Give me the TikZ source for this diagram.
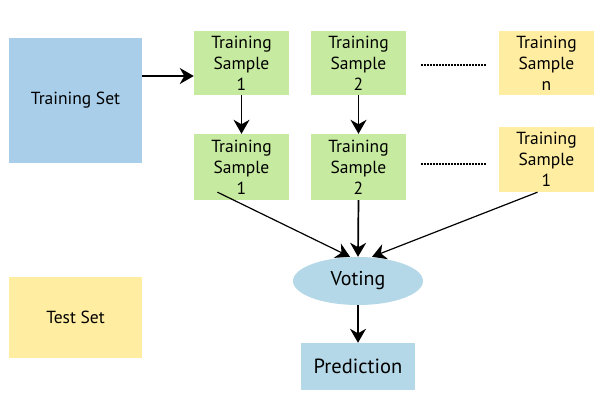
\documentclass[tikz,border=0pt]{standalone}
\usepackage{fontspec}
\setmainfont{PT Sans}
\usetikzlibrary{arrows.meta,shapes.geometric}
\definecolor{setblue}{HTML}{A9CEE9}
\definecolor{voteblue}{HTML}{B4D8E7}
\definecolor{sgreen}{HTML}{C6EBA0}
\definecolor{syellow}{HTML}{FFEDA1}
\tikzset{
  box/.style={fill=#1,draw=none,inner sep=0pt,align=center,font=\fontsize{17.5}{21}\selectfont},
  arr/.style={-{Stealth[length=14pt,width=16pt,inset=4.5pt]},line width=1.7pt},
  thinarr/.style={-{Stealth[length=14pt,width=16pt,inset=4.5pt]},line width=1.2pt},
  dots/.style={line width=2pt,dash pattern=on 1.4pt off 1.6pt}
}
\begin{document}
\begin{tikzpicture}[x=1pt,y=-1pt]
\useasboundingbox (0,0) rectangle (600,400);
\node[box=setblue,minimum width=133pt,minimum height=125pt] (ts) at (75.5,100.5) {Training Set};
\node[box=sgreen,minimum width=95pt,minimum height=64pt] (a1) at (241.5,63) {Training\\Sample\\1};
\node[box=sgreen,minimum width=95pt,minimum height=64pt] (a2) at (358.5,63) {Training\\Sample\\2};
\node[box=syellow,minimum width=95pt,minimum height=64pt] (an) at (546.5,63) {Training\\Sample\\n};
\node[box=sgreen,minimum width=95pt,minimum height=66pt] (b1) at (241.5,167) {Training\\Sample\\1};
\node[box=sgreen,minimum width=95pt,minimum height=66pt] (b2) at (358.5,167) {Training\\Sample\\2};
\node[box=syellow,minimum width=95pt,minimum height=65pt] (bn) at (546.5,159.5) {Training\\Sample\\1};
\node[box=syellow,minimum width=133pt,minimum height=81pt] (test) at (75.5,317.5) {Test Set};
\node[ellipse,fill=voteblue,inner sep=0pt,minimum width=130pt,minimum height=48pt,font=\fontsize{20}{22}\selectfont] (v) at (358,281) {Voting};
\node[box=voteblue,minimum width=114pt,minimum height=47pt,font=\fontsize{20.5}{22}\selectfont] (p) at (358,366.5) {Prediction};
\draw[dots] ([xshift=15pt,yshift=-2pt]a2.east) -- ([xshift=-13pt,yshift=-2pt]an.west);
\draw[dots] ([xshift=15pt,yshift=3pt]b2.east) -- ([xshift=-13pt,yshift=-4.5pt]bn.west);
\draw[arr] ([yshift=24.5pt]ts.east) -- ([yshift=-13pt]a1.west);
\draw[arr] (a1.south) -- (b1.north);
\draw[arr] (a2.south) -- (b2.north);
\draw[thinarr] ([xshift=-24pt,yshift=8pt]b1.south) -- ([xshift=-8pt]v.north);
\draw[arr] (b2.south) -- (v.north);
\draw[thinarr] ([xshift=-9pt]bn.south) -- ([xshift=14pt]v.north);
\draw[arr] (v.south) -- (p.north);
\end{tikzpicture}
\end{document}
